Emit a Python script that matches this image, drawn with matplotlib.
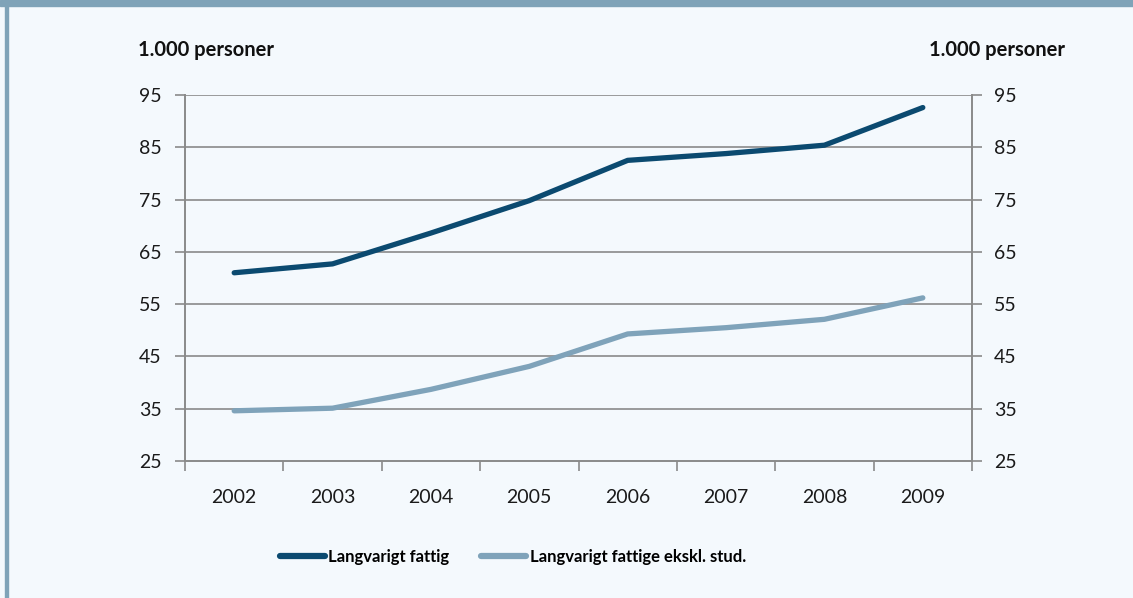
import matplotlib.pyplot as plt
import matplotlib.patches as mpatches
from matplotlib.lines import Line2D

# data (1.000 personer)
years = ["2002", "2003", "2004", "2005", "2006", "2007", "2008", "2009"]
langvarigt_fattig = [61.0, 62.7, 68.6, 74.8, 82.5, 83.8, 85.4, 92.6]
fattige_ekskl_stud = [34.6, 35.1, 38.7, 43.1, 49.3, 50.5, 52.1, 56.2]
y_ticks = [25, 35, 45, 55, 65, 75, 85, 95]

dark = "#0b4a70"
light = "#7fa3ba"
grid = "#8a8a8a"
bg = "#f4f9fd"

plt.rcParams['font.family'] = ['Lato', 'DejaVu Sans']

fig = plt.figure(figsize=(11.33, 5.98), dpi=100, facecolor=bg)

# frame decoration: top band and left strip
fig.patches.append(mpatches.Rectangle((0, 1 - 6 / 598), 1, 6 / 598, transform=fig.transFigure,
                                      color="#7fa3b8", zorder=0))
fig.patches.append(mpatches.Rectangle((5 / 1133, 0), 2.5 / 1133, 1, transform=fig.transFigure,
                                      color="#7fa3b8", zorder=0))

ax = fig.add_axes([185 / 1133, 1 - 461 / 598, 787 / 1133, 366 / 598])
ax.set_facecolor(bg)

x = list(range(len(years)))
ax.plot(x, langvarigt_fattig, color=dark, lw=3.8, solid_capstyle='round', zorder=3)
ax.plot(x, fattige_ekskl_stud, color=light, lw=3.8, solid_capstyle='round', zorder=3)

ax.set_xlim(-0.5, len(years) - 0.5)
ax.set_ylim(25, 95)
ax.set_yticks(y_ticks)
ax.set_yticklabels([str(v) for v in y_ticks], fontsize=14, color="#1a1a1a")
ax.tick_params(axis='y', length=7, width=1.2, color=grid, pad=10)

ax.set_xticks([i - 0.5 for i in range(len(years) + 1)])
ax.set_xticklabels([])
ax.set_xticks(x, minor=True)
ax.set_xticklabels(years, minor=True, fontsize=14, color="#1a1a1a")
ax.tick_params(axis='x', which='major', length=7, width=1.2, color=grid, direction='out')
ax.tick_params(axis='x', which='minor', length=0, pad=20)

for v in y_ticks[1:]:
    ax.axhline(v, color=grid, lw=1.2, zorder=1)

for side in ['left', 'right', 'bottom']:
    ax.spines[side].set_color(grid)
    ax.spines[side].set_linewidth(1.4)
ax.spines['top'].set_visible(False)

ax2 = ax.twinx()
ax2.set_ylim(25, 95)
ax2.set_yticks(y_ticks)
ax2.set_yticklabels([str(v) for v in y_ticks], fontsize=14, color="#1a1a1a")
ax2.tick_params(axis='y', length=7, width=1.2, color=grid, pad=9)
for side in ['left', 'right', 'bottom', 'top']:
    ax2.spines[side].set_visible(False)

fig.text(138 / 1133, 1 - 50 / 598, "1.000 personer", fontsize=14.5, fontweight='bold',
         va='center', ha='left', color="#111111")
fig.text(1065 / 1133, 1 - 50 / 598, "1.000 personer", fontsize=14.5, fontweight='bold',
         va='center', ha='right', color="#111111")

handles = [Line2D([], [], color=dark, lw=4.5, solid_capstyle='round'),
           Line2D([], [], color=light, lw=4.5, solid_capstyle='round')]
fig.legend(handles, ["Langvarigt fattig", "Langvarigt fattige ekskl. stud."],
           loc='center', bbox_to_anchor=(513 / 1133, 1 - 557 / 598), ncol=2, frameon=False,
           prop={'weight': 'bold', 'size': 12}, handlelength=2.7, handletextpad=0.2,
           columnspacing=1.9)

fig.savefig("out.png", dpi=100, facecolor=bg)
